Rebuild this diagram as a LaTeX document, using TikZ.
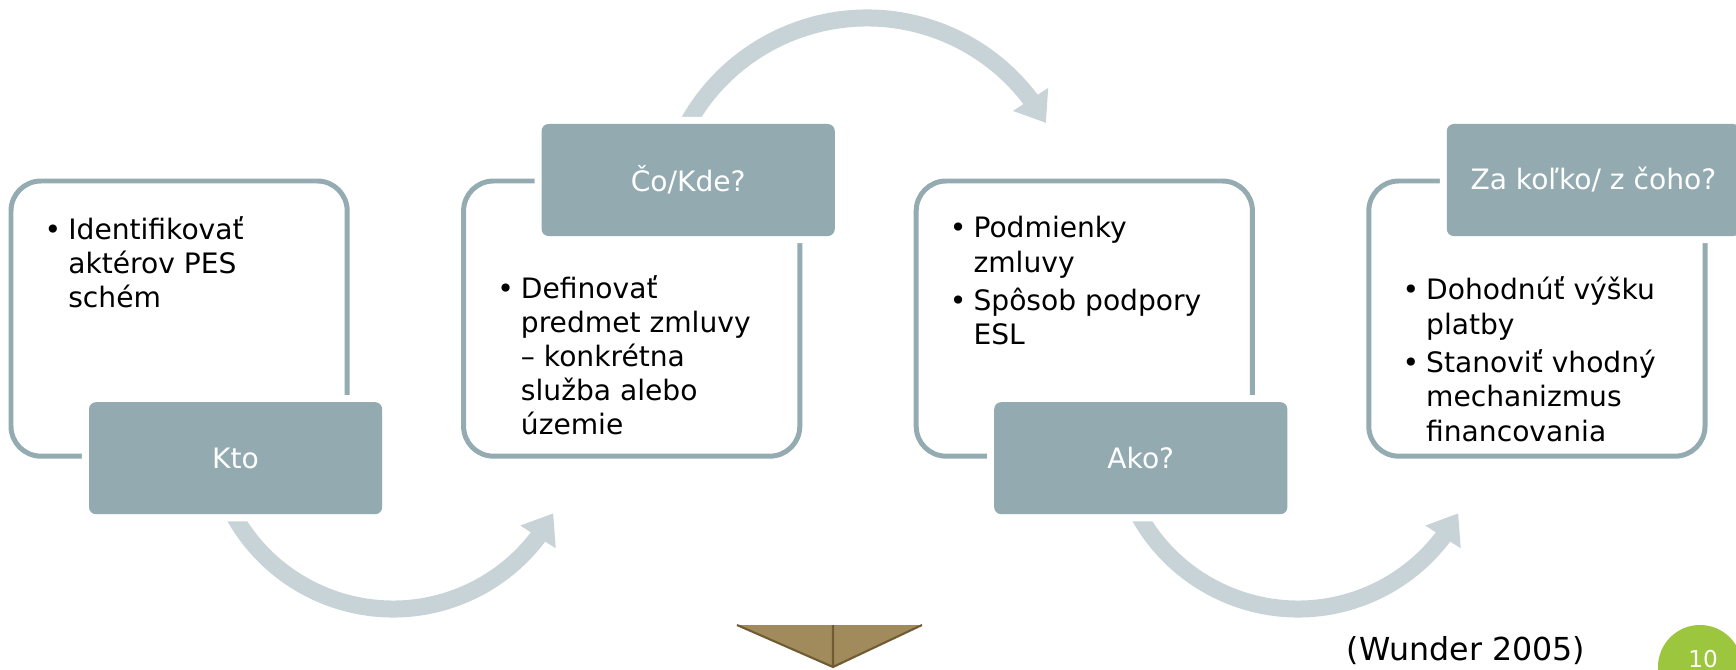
\documentclass[tikz,border=0pt]{standalone}
\usepackage{fontspec}
\setmainfont{DejaVu Sans}
\usetikzlibrary{calc}
\usetikzlibrary{arrows.meta}
\usetikzlibrary{bending}
\definecolor{framegray}{RGB}{148,171,177}
\definecolor{tabgray}{RGB}{146,170,176}
\definecolor{arcgray}{RGB}{199,211,214}
\definecolor{pagegreen}{RGB}{156,198,62}
\definecolor{boxbrown}{RGB}{161,139,92}
\definecolor{boxbrowndark}{RGB}{112,92,50}
\tikzstyle{stepframe}=[draw=framegray,line width=1.42pt,rounded corners=8.5pt,minimum width=3.36cm,minimum height=2.75cm,inner sep=0pt,outer sep=0pt]
\tikzstyle{steptab}=[fill=tabgray,rounded corners=2pt,minimum width=2.93cm,minimum height=1.12cm,inner sep=0pt,outer sep=0pt,text=white,font=\fontsize{8}{9.7}\selectfont,preaction={draw=white,line width=4pt}]
\tikzstyle{steptext}=[anchor=base west,inner sep=0pt,font=\fontsize{8}{9.7}\selectfont]
\tikzstyle{cyclearrow}=[draw=arcgray,line width=4.84pt,-{Triangle[length=8pt,width=11.4pt,flex]}]
\pgfmathsetmacro{\boxgap}{452.6}
\newcommand{\bulletlist}[1]{\begin{tabular}[t]{@{}l@{\hspace{2pt}}l@{}}#1\end{tabular}}

\begin{document}
\begin{tikzpicture}[x=0.01cm,y=-0.01cm]
  \useasboundingbox (0,0) rectangle (1736,670);
  % frames
  \foreach \i in {0,1,2,3} {
    \node[stepframe,anchor=north west] (frame\i) at (11+\boxgap*\i,181) {};
  }
  % arrows
  \coordinate (arcA) at (393,427);
  \coordinate (arcB) at (867,223);
  \coordinate (arcC) at (1298,427);
  \coordinate (ktoout) at ($(arcA)+(155:182)$);
  \coordinate (cokdeout) at ($(arcB)+(-155:205)$);
  \coordinate (akoout) at ($(arcC)+(155:182)$);
  \draw[cyclearrow] (ktoout) arc[start angle=155,end angle=28.3,radius=182]; %Kto
  \draw[cyclearrow] (cokdeout) arc[start angle=-155,end angle=-29.2,radius=205]; %Co/Kde
  \draw[cyclearrow] (akoout) arc[start angle=155,end angle=28.3,radius=182]; %Ako
  % tabs
  \node[steptab,anchor=north west] (kto) at ($(frame0.south west)+(78,-54)$) {Kto};
  \node[steptab,anchor=north west] (cokde) at ($(frame1.north west)+(78,-57)$) {Čo/Kde?};
  \node[steptab,anchor=north west] (ako) at ($(frame2.south west)+(78,-54)$) {Ako?};
  \node[steptab,anchor=north west] (zakolko) at ($(frame3.north west)+(78,-57)$) {Za koľko/ z čoho?};
  % texts
  \node[steptext] (ktotext) at ($(frame0.north west)+(33,58)$) {\bulletlist{• & Identifikovať\\ & aktérov PES\\ & schém}};
  \node[steptext] (cokdetext) at ($(frame1.north west)+(33,117)$) {\bulletlist{• & Definovať\\ & predmet zmluvy\\ & – konkrétna\\ & služba alebo\\ & územie}};
  \node[steptext] (akotext) at ($(frame2.north west)+(33,57)$) {\bulletlist{• & Podmienky\\ & zmluvy\\[1.3pt] • & Spôsob podpory\\ & ESL}};
  \node[steptext] (zakolkotext) at ($(frame3.north west)+(33,119)$) {\bulletlist{• & Dohodnúť výšku\\ & platby\\[1.3pt] • & Stanoviť vhodný\\ & mechanizmus\\ & financovania}};
  % bottom
  \fill[boxbrown] (737,625) -- (833,667) -- (922,625) -- cycle;
  \draw[boxbrowndark,line width=0.6pt] (737,625) -- (833,667) -- (922,625) (833,625) -- (833,667);
  \node[anchor=base,inner sep=0pt,font=\fontsize{9}{11}\selectfont] (source) at (1466,660) {(Wunder 2005)};
  \node[circle,fill=pagegreen,minimum size=0.84cm,inner sep=0pt] (pagenum) at (1700,667) {};
  \node[anchor=base,inner sep=0pt,text=white,font=\fontsize{6.6}{8}\selectfont] (pagelabel) at ($(pagenum)+(3,0)$) {10};
\end{tikzpicture}
\end{document}
